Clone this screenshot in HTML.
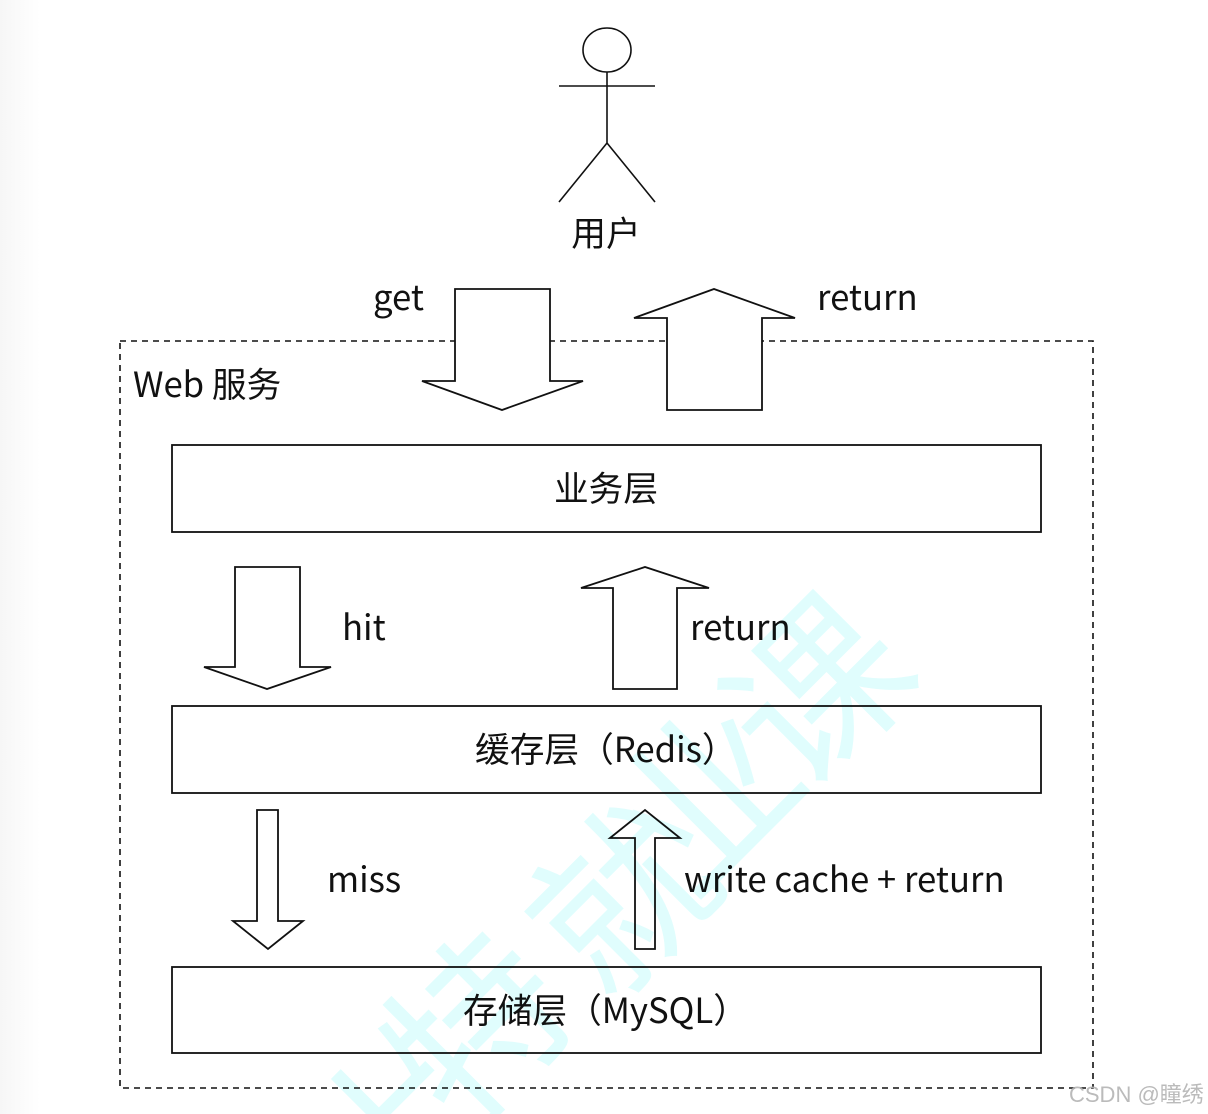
<!DOCTYPE html>
<html lang="zh"><head><meta charset="utf-8"><title>Web 服务缓存架构图</title>
<style>
html,body{margin:0;padding:0;background:#fff;width:1208px;height:1114px;overflow:hidden}
svg{display:block;position:absolute;left:0;top:0}
text{font-family:"Noto Sans CJK SC","Liberation Sans",sans-serif;fill:#111}
.s{fill:#fff;stroke:#111;stroke-width:1.8}
.n{fill:none;stroke:#111;stroke-width:1.6}
.l{font-size:34.7px}
.w{font-size:175px;fill:#e0fdfd}
</style></head><body>
<svg width="1208" height="1114" viewBox="0 0 1208 1114">
<defs>
<linearGradient id="g" x1="0" x2="1" y1="0" y2="0"><stop offset="0" stop-color="#f6f6f6"/><stop offset="1" stop-color="#fff"/></linearGradient>
<clipPath id="c"><rect width="1208" height="1114"/></clipPath>
</defs>
<rect width="1208" height="1114" fill="#fff"/>
<rect width="40" height="1114" fill="url(#g)"/>
<rect x="120" y="341" width="973" height="747" fill="none" stroke="#111" stroke-width="1.6" stroke-dasharray="6 5"/>
<ellipse cx="607" cy="50" rx="24" ry="22" class="n"/>
<path class="n" d="M607 72V143M559 86H655M559 202L607 143L655 202"/>
<text x="606" y="246" text-anchor="middle" class="l">用户</text>
<text x="373" y="310" class="l">get</text>
<text x="817" y="310" class="l">return</text>
<text x="133" y="397" class="l">Web 服务</text>
<polygon class="s" points="455,289 550,289 550,381 583,381 502,410 422,381 455,381"/>
<polygon class="s" points="667,410 762,410 762,318 795,318 714,289 634,318 667,318"/>
<rect class="s" x="172" y="445" width="869" height="87"/>
<text x="606" y="501" text-anchor="middle" class="l">业务层</text>
<polygon class="s" points="235,567 300,567 300,667 331,667 267,689 204,667 235,667"/>
<polygon class="s" points="613,689 677,689 677,588 709,588 645,567 581,588 613,588"/>
<text x="342" y="640" class="l">hit</text>
<text x="690" y="640" class="l">return</text>
<rect class="s" x="172" y="706" width="869" height="87"/>
<text x="475" y="762" class="l">缓存层（Redis）</text>
<polygon class="s" points="257,810 278,810 278,921 303,921 268,949 233,921 257,921"/>
<polygon class="s" points="635,949 655,949 655,838 680,838 645,810 610,838 635,838"/>
<text x="327" y="892" class="l">miss</text>
<text x="684" y="892" class="l">write cache + return</text>
<rect class="s" x="172" y="967" width="869" height="86"/>
<text x="463" y="1023" class="l">存储层（MySQL）</text>
<g clip-path="url(#c)" style="mix-blend-mode:multiply">
<text class="w" transform="translate(863 736) rotate(-45)" text-anchor="middle">课</text>
<text class="w" transform="translate(752 842) rotate(-45)" text-anchor="middle">业</text>
<text class="w" transform="translate(668 945) rotate(-45)" text-anchor="middle">就</text>
<text class="w" transform="translate(522 1073) rotate(-45)" text-anchor="middle">特</text>
<text class="w" transform="translate(442 1172) rotate(-45)" text-anchor="middle">上</text>
</g>
<text x="1069" y="1102" style="font-family:'Liberation Sans','Noto Sans CJK SC',sans-serif;font-size:22px;fill:#b4b4b4;opacity:.9">CSDN @瞳绣</text>
</svg>
</body></html>
